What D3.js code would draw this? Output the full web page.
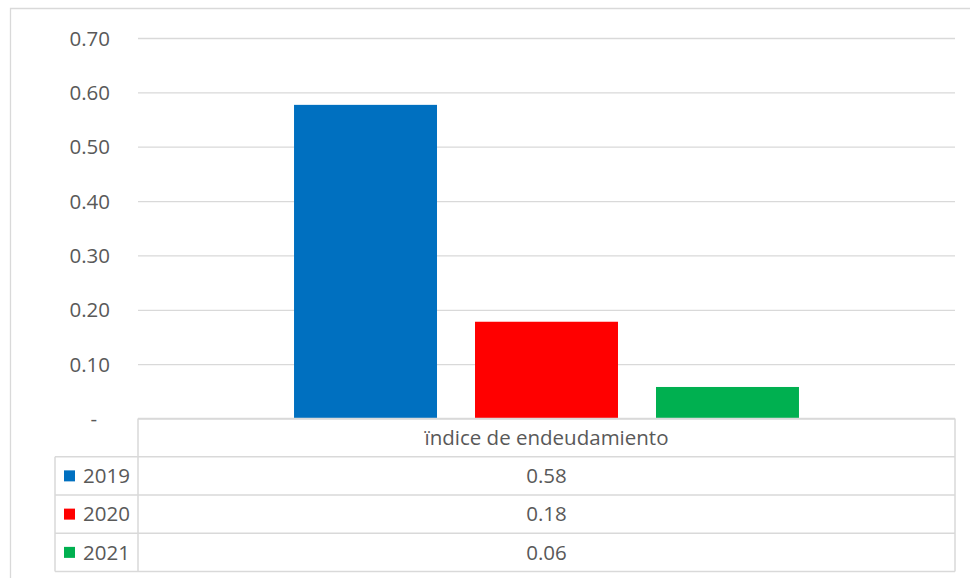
<!DOCTYPE html>
<html>
<head>
<meta charset="utf-8">
<script src="https://cdn.jsdelivr.net/npm/d3@7"></script>
<style>
  html, body { margin: 0; padding: 0; background: #ffffff; }
  svg { display: block; font-family: "Open Sans", sans-serif; }
</style>
</head>
<body>
<svg id="chart" width="970" height="578"></svg>
<script>
// ---- data ----
const categories = ["ïndice de endeudamiento"];
const seriesNames = ["2019", "2020", "2021"];
const seriesValues = [0.577, 0.178, 0.058];
const seriesColors = ["#0070C0", "#FF0000", "#00B050"];
const yTicks = [0, 0.1, 0.2, 0.3, 0.4, 0.5, 0.6, 0.7];

// ---- layout ----
const W = 970, H = 578;
const plotLeft = 138, plotRight = 955, plotTop = 38, plotBottom = 418.5;
const rowH = 38.25;
const legendLeft = 55;
const gridColor = "#d9d9d9";
const textColor = "#595959";
const fontSize = 20.5;

const svg = d3.select("#chart");

// outer chart frame (cropped at right/bottom)
svg.append("path")
  .attr("d", `M10.5,${H} L10.5,8.5 L${W},8.5`)
  .attr("fill", "none").attr("stroke", gridColor).attr("stroke-width", 1.3);

const y = d3.scaleLinear().domain([0, 0.7]).range([plotBottom, plotTop]);
const x0 = d3.scaleBand().domain(categories).range([plotLeft, plotRight])
  .paddingInner(0).paddingOuter(0.309);
const x1 = d3.scaleBand().domain(seriesNames).range([0, x0.bandwidth()])
  .paddingInner(0.21).paddingOuter(0);

// gridlines
const yAxis = d3.axisLeft(y).tickValues(yTicks)
  .tickSize(-(plotRight - plotLeft))
  .tickFormat(d => d === 0 ? "-" : d3.format(".2f")(d));
const gAxis = svg.append("g").attr("transform", `translate(${plotLeft},0)`).call(yAxis);
gAxis.select(".domain").remove();
gAxis.selectAll(".tick line").attr("stroke", gridColor).attr("stroke-width", 1.3);
gAxis.selectAll(".tick text")
  .attr("fill", textColor)
  .attr("font-size", fontSize)
  .attr("font-family", "'Open Sans', sans-serif")
  .attr("x", d => d === 0 ? -41 : -28)
  .attr("dy", "0.35em");

// bars
const gBars = svg.append("g");
categories.forEach(cat => {
  seriesNames.forEach((s, i) => {
    gBars.append("rect")
      .attr("x", x0(cat) + x1(s))
      .attr("width", x1.bandwidth())
      .attr("y", y(seriesValues[i]))
      .attr("height", y(0) - y(seriesValues[i]))
      .attr("fill", seriesColors[i]);
  });
});

// data table
const gT = svg.append("g");
const tableTop = plotBottom;
const tableBottom = tableTop + rowH * (seriesNames.length + 1);
const line = (x1_, y1_, x2_, y2_) => gT.append("line")
  .attr("x1", x1_).attr("y1", y1_).attr("x2", x2_).attr("y2", y2_)
  .attr("stroke", gridColor).attr("stroke-width", 1.5);

line(plotLeft, tableTop, plotRight, tableTop);
for (let r = 1; r <= seriesNames.length + 1; r++) {
  line(legendLeft, tableTop + rowH * r, plotRight, tableTop + rowH * r);
}
line(plotLeft, tableTop, plotLeft, tableBottom);
line(plotRight, tableTop, plotRight, tableBottom);
line(legendLeft, tableTop + rowH, legendLeft, tableBottom);

// header
categories.forEach(cat => {
  gT.append("text")
    .attr("x", x0(cat) + x0.bandwidth() / 2)
    .attr("y", tableTop + rowH / 2)
    .attr("dy", "0.35em")
    .attr("text-anchor", "middle")
    .attr("fill", textColor)
    .attr("font-size", fontSize)
    .text(cat);
});

// rows
seriesNames.forEach((s, i) => {
  const cy = tableTop + rowH * (i + 1) + rowH / 2;
  gT.append("rect")
    .attr("x", 64).attr("y", cy - 5.5)
    .attr("width", 11).attr("height", 11)
    .attr("fill", seriesColors[i]);
  gT.append("text")
    .attr("x", 83).attr("y", cy).attr("dy", "0.35em")
    .attr("fill", textColor).attr("font-size", fontSize)
    .text(s);
  categories.forEach(cat => {
    gT.append("text")
      .attr("x", x0(cat) + x0.bandwidth() / 2)
      .attr("y", cy).attr("dy", "0.35em")
      .attr("text-anchor", "middle")
      .attr("fill", textColor).attr("font-size", fontSize)
      .text(d3.format(".2f")(seriesValues[i]));
  });
});
</script>
</body>
</html>
